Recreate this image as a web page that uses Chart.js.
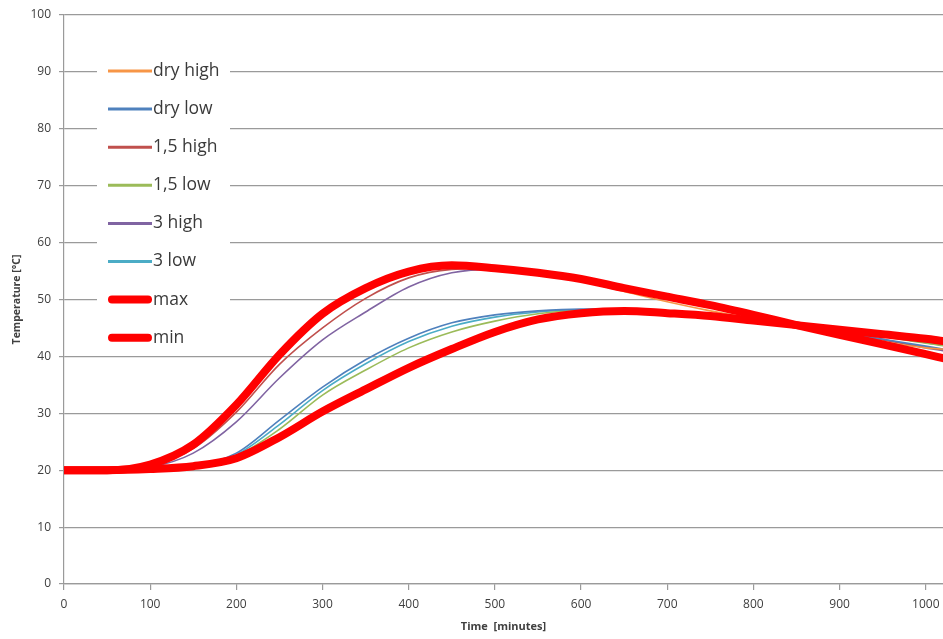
<!DOCTYPE html>
<html>
<head>
<meta charset="utf-8">
<title>Temperature over time</title>
<script src="https://cdn.jsdelivr.net/npm/chart.js@4.4.0/dist/chart.umd.min.js"></script>
<style>
  html, body { margin: 0; padding: 0; background: #fff; }
  #chart { display: block; }
</style>
</head>
<body>
<canvas id="chart" width="943" height="639"></canvas>
<script>
// time in minutes, values in °C
const timeMinutes = [0, 50, 100, 150, 200, 250, 300, 350, 400, 450, 500, 550, 600, 650, 700, 750, 800, 850, 900, 950, 1000, 1020];
const xTickValues = [0, 100, 200, 300, 400, 500, 600, 700, 800, 900, 1000];

const dryHigh  = [20, 20, 21.0, 24.3, 31.2, 40.0, 47.2, 51.7, 54.6, 55.8, 55.4, 54.5, 53.2, 51.4, 49.6, 48.0, 46.6, 45.2, 43.9, 42.6, 41.5, 41.3];
const dryLow   = [20, 20, 20.1, 20.8, 23.0, 28.8, 34.6, 39.4, 43.2, 45.9, 47.3, 48.0, 48.3, 48.3, 48.0, 47.4, 46.5, 45.5, 44.3, 43.0, 41.8, 41.3];
const p15High  = [20, 20, 20.8, 23.8, 30.2, 38.6, 45.0, 50.2, 53.8, 55.3, 55.5, 54.7, 53.4, 51.9, 50.3, 48.8, 47.1, 45.6, 44.2, 42.9, 41.6, 41.2];
const p15Low   = [20, 20, 20.1, 20.6, 22.5, 27.2, 33.2, 37.6, 41.5, 44.3, 46.2, 47.5, 48.1, 48.3, 48.0, 47.4, 46.6, 45.6, 44.6, 43.5, 42.3, 41.9];
const p3High   = [20, 20, 20.5, 23.0, 28.5, 36.2, 42.9, 47.8, 52.2, 54.7, 55.3, 54.6, 53.4, 51.9, 50.3, 48.8, 47.1, 45.6, 44.3, 43.0, 41.5, 41.0];
const p3Low    = [20, 20, 20.1, 20.7, 22.7, 28.0, 34.0, 38.7, 42.6, 45.3, 46.9, 47.8, 48.2, 48.3, 48.0, 47.4, 46.6, 45.7, 44.7, 43.6, 42.4, 42.0];
const maxTemp  = [20, 20, 21.0, 24.5, 31.5, 40.3, 47.5, 52.0, 54.9, 56.0, 55.5, 54.7, 53.6, 52.0, 50.5, 49.0, 47.3, 45.5, 43.8, 42.1, 40.4, 39.7];
const minTemp  = [20, 20, 20.2, 20.7, 22.1, 25.8, 30.3, 34.2, 38.0, 41.3, 44.3, 46.5, 47.6, 48.0, 47.6, 47.1, 46.3, 45.5, 44.7, 43.9, 43.1, 42.7];

const toPoints = vals => vals.map((v, i) => ({ x: timeMinutes[i], y: v }));

// thin lines go under the thick red envelope lines
const makeLine = (label, values, color, thick) => ({
    label: label,
    data: toPoints(values),
    borderColor: color,
    backgroundColor: color,
    borderWidth: thick ? 8 : 1.6,
    pointRadius: 0,
    cubicInterpolationMode: 'monotone',
    borderCapStyle: 'round',
    fill: false,
    order: thick ? 0 : 1,
});

// legend sits inside the plot, on a white box that hides the grid
const insideLegend = {
    id: 'insideLegend',
    beforeDatasetsDraw(chart) {
        const ctx = chart.ctx;
        ctx.save();
        ctx.fillStyle = '#ffffff';
        ctx.fillRect(97, 45, 133, 308);
        chart.data.datasets.forEach((ds, i) => {
            const y = 71 + i * 38.1;
            const thick = ds.borderWidth > 3;
            ctx.strokeStyle = ds.borderColor;
            ctx.lineWidth = thick ? 8 : 3;
            ctx.lineCap = thick ? 'round' : 'butt';
            ctx.beginPath();
            ctx.moveTo(thick ? 112 : 108, y);
            ctx.lineTo(thick ? 148 : 152, y);
            ctx.stroke();
            ctx.fillStyle = '#3a3a3a';
            ctx.font = '17.5px "Open Sans"';
            ctx.textBaseline = 'middle';
            ctx.fillText(ds.label, 153, y);
        });
        ctx.restore();
    }
};

Chart.defaults.font.family = '"Open Sans", sans-serif';
Chart.defaults.color = '#404040';

const gridGray = '#9a9a9a';

new Chart(document.getElementById('chart'), {
    type: 'line',
    data: {
        datasets: [
            makeLine('dry high', dryHigh, '#F79646', false),
            makeLine('dry low', dryLow, '#4F81BD', false),
            makeLine('1,5 high', p15High, '#C0504D', false),
            makeLine('1,5 low', p15Low, '#9BBB59', false),
            makeLine('3 high', p3High, '#8064A2', false),
            makeLine('3 low', p3Low, '#4BACC6', false),
            makeLine('max', maxTemp, '#FF0000', true),
            makeLine('min', minTemp, '#FF0000', true),
        ]
    },
    options: {
        responsive: false,
        animation: false,
        layout: { padding: { top: 15, right: 0, left: 0, bottom: 0 } },
        plugins: {
            legend: { display: false },
            tooltip: { enabled: false },
        },
        scales: {
            x: {
                type: 'linear',
                min: 0,
                max: 1020,
                afterBuildTicks: axis => {
                    axis.ticks = xTickValues.map(v => ({ value: v }));
                },
                afterFit: axis => {
                    axis.height = 55;
                    axis.paddingLeft = 0;
                    axis.paddingRight = 0;
                },
                ticks: {
                    padding: 7, maxRotation: 0, autoSkip: false, font: { size: 12 },
                    callback: v => String(v),
                },
                grid: { drawOnChartArea: false, drawTicks: true, tickLength: 6, color: gridGray, lineWidth: 1.2 },
                border: { display: true, color: gridGray, width: 1.2 },
                title: {
                    display: true,
                    text: 'Time  [minutes]',
                    font: { size: 11, weight: 'bold' },
                    padding: { top: 0, bottom: 6 },
                }
            },
            y: {
                min: 0,
                max: 100,
                afterFit: axis => {
                    axis.width = 64;
                    axis.paddingTop = 0;
                    axis.paddingBottom = 0;
                },
                ticks: { stepSize: 10, padding: 8, font: { size: 12 } },
                grid: { color: gridGray, lineWidth: 1.2, tickLength: 5 },
                border: { display: true, color: gridGray, width: 1.2 },
                title: {
                    display: true,
                    text: 'Temperature [°C]',
                    font: { size: 10.5, weight: 'bold' },
                    padding: { top: 11, bottom: 0 },
                }
            }
        }
    },
    plugins: [insideLegend]
});
</script>
</body>
</html>
